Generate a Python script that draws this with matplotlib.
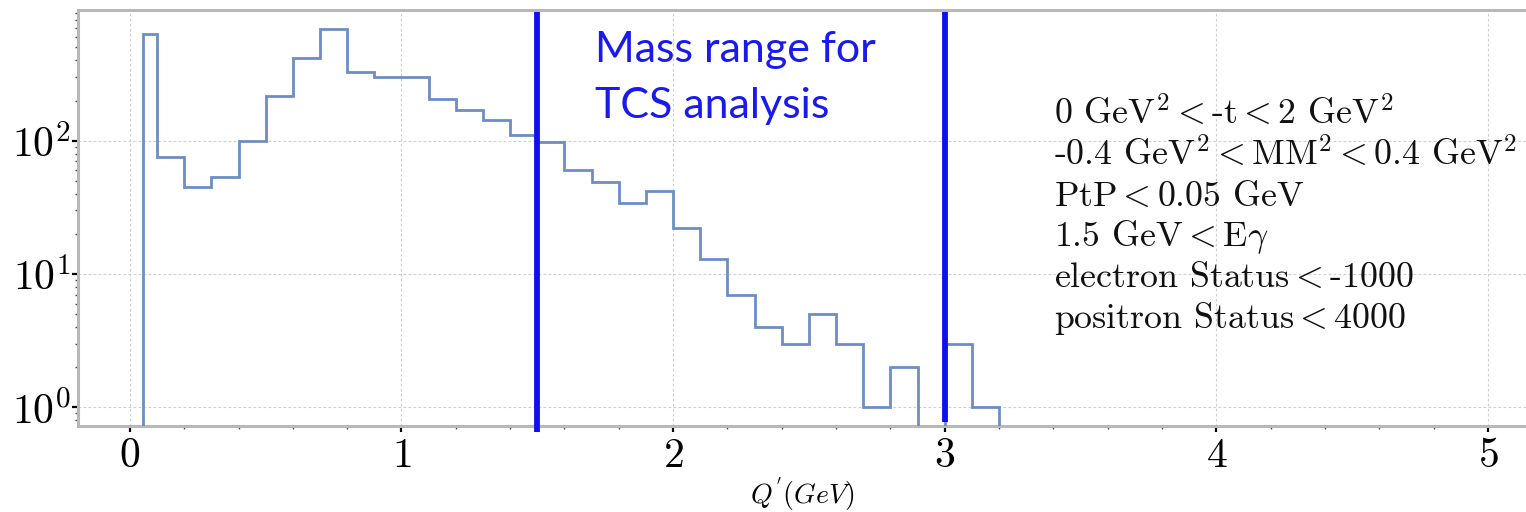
import matplotlib
matplotlib.use("Agg")
import matplotlib.pyplot as plt
import numpy as np
from matplotlib.ticker import FixedLocator, MultipleLocator, FuncFormatter, LogLocator
import matplotlib.transforms as mtransforms

plt.rcParams["mathtext.fontset"] = "cm"

# Invariant-mass histogram: bin edges (GeV) and counts per bin
bin_edges = [0.05, 0.1, 0.2, 0.3, 0.4, 0.5, 0.6, 0.7, 0.8, 0.9, 1.0, 1.1, 1.2,
             1.3, 1.4, 1.5, 1.6, 1.7, 1.8, 1.9, 2.0, 2.1, 2.2, 2.3, 2.4, 2.5,
             2.6, 2.7, 2.8, 2.9, 3.0, 3.1, 3.2]
counts = [628, 75, 45, 53, 100, 218, 420, 692, 330, 301, 300, 204, 171,
          143, 111, 98, 60, 49, 34, 42, 22, 13, 7, 4, 3, 5, 3, 1, 2, 0, 3, 1]

# TCS mass window boundaries (GeV)
mass_window = [1.5, 3.0]
window_label = ["Mass range for", "TCS analysis"]

# Event selection cuts
cut_lines = [
    r"$\text{0 GeV}^2 < \text{-t} < \text{2 GeV}^2$",
    r"$\text{-0.4 GeV}^2 < \text{MM}^2 < \text{0.4 GeV}^2$",
    r"$\text{PtP} < \text{0.05 GeV}$",
    r"$\text{1.5 GeV} < \text{E}\gamma$",
    r"$\text{electron Status} < \text{-1000}$",
    r"$\text{positron Status} < \text{4000}$",
]

x_ticks = [0, 1, 2, 3, 4, 5]
y_ticks = [1, 10, 100]

fig = plt.figure(figsize=(15.26, 5.12), dpi=100)
ax = fig.add_axes([78 / 1526, 1 - 426 / 512, 1 - 78 / 1526, (426 - 10) / 512])

ax.set_yscale("log")
ax.set_xlim(-0.191, 5.14)
ax.set_ylim(0.724, 955)

ax.stairs(counts, bin_edges, baseline=1e-3, color="#6e8dc4", linewidth=2.0,
          zorder=3)

# Grid
ax.grid(True, which="major", color="#cfcfcf", linestyle=(0, (2.5, 2)),
        linewidth=0.8, zorder=0)

# Spines
for side in ("left", "bottom", "top"):
    ax.spines[side].set_color("#b8b8b8")
    ax.spines[side].set_linewidth(2.2)
ax.spines["right"].set_visible(False)

# Ticks
ax.xaxis.set_major_locator(FixedLocator(x_ticks))
ax.xaxis.set_minor_locator(MultipleLocator(0.2))
ax.xaxis.set_major_formatter(FuncFormatter(lambda v, p: r"$%d$" % round(v)))
ax.yaxis.set_major_locator(FixedLocator(y_ticks))
ax.yaxis.set_minor_locator(LogLocator(base=10, subs=np.arange(2, 10)))
ax.yaxis.set_major_formatter(
    FuncFormatter(lambda v, p: r"$10^{%d}$" % round(np.log10(v))))
ax.yaxis.set_minor_formatter(FuncFormatter(lambda v, p: ""))
ax.tick_params(axis="both", which="major", direction="out", length=4,
               width=1.6, color="black", labelsize=30, top=False, right=False)
ax.tick_params(axis="x", which="major", pad=2)
ax.tick_params(axis="y", which="major", pad=1)
ax.tick_params(axis="both", which="minor", direction="out", length=2.5,
               width=1.0, color="#444444", top=False, right=False)

ax.set_xlabel(r"$Q^{'}(GeV)$", fontsize=20, labelpad=-1)

# Mass window boundaries
trans = mtransforms.blended_transform_factory(ax.transData, ax.transAxes)
ax.plot([mass_window[0]] * 2, [-0.014, 0.996], transform=trans,
        color="#1010ee", linewidth=4.2, clip_on=False, zorder=5,
        solid_capstyle="butt")
ax.plot([mass_window[1]] * 2, [0.010, 0.996], transform=trans,
        color="#1010ee", linewidth=4.2, clip_on=False, zorder=5,
        solid_capstyle="butt")

for i, line in enumerate(window_label):
    fig.text(595 / 1526, 1 - (62 + 56 * i) / 512, line, color="#1a1aee",
             fontsize=31, family="Lato", va="baseline", ha="left")

# Selection cuts
for i, line in enumerate(cut_lines):
    fig.text(1054 / 1526, 1 - (124 + 40.8 * i) / 512, line,
             fontsize=25.8, va="baseline", ha="left", color="#111111")

fig.savefig("out.png", dpi=100)
